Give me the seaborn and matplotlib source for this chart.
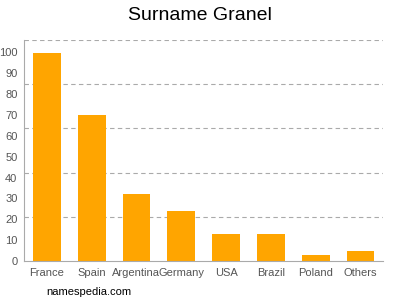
import matplotlib
matplotlib.use("Agg")
import matplotlib.pyplot as plt
import seaborn as sns
import pandas as pd

countries = ["France", "Spain", "Argentina", "Germany", "USA", "Brazil", "Poland", "Others"]
values = [100, 70, 32, 24, 13, 13, 3, 5]
yticks = [0, 10, 20, 30, 40, 50, 60, 70, 80, 90, 100]

sns.set_style("white")
plt.rcParams['font.family'] = ['Liberation Sans', 'DejaVu Sans']

df = pd.DataFrame({"country": countries, "value": values})

fig = plt.figure(figsize=(4, 3), dpi=100)
ax = fig.add_axes([0.061, 0.13, 0.8965, 0.7367])
sns.barplot(data=df, x="country", y="value", color="#FFA500", saturation=1,
            width=0.62, linewidth=0, ax=ax)

ymax = 106
ax.set_ylim(0, ymax)
ax.set_xlim(-0.5, len(countries) - 0.5)
for k in range(1, 6):
    ax.axhline(ymax * k / 5, color="#aaaaaa", linestyle=(0, (4, 3)), linewidth=0.8, zorder=0)

ax.set_yticks(yticks)
ax.tick_params(axis="both", labelsize=8, length=3, width=0.8, pad=2)
ax.tick_params(axis="y", colors="#999999", labelcolor="#555555")
ax.tick_params(axis="x", colors="#999999", labelcolor="#555555")
ax.set_xlabel("")
ax.set_ylabel("")
for s in ["top", "right"]:
    ax.spines[s].set_visible(False)
for s in ["left", "bottom"]:
    ax.spines[s].set_color("#aaaaaa")
    ax.spines[s].set_linewidth(0.8)

fig.text(0.5, 0.95, "Surname Granel", ha="center", va="center", fontsize=14, color="#000000")
fig.text(0.115, 0.027, "namespedia.com", ha="left", va="center", fontsize=8, color="#000000")

fig.savefig("out.png", dpi=100)
